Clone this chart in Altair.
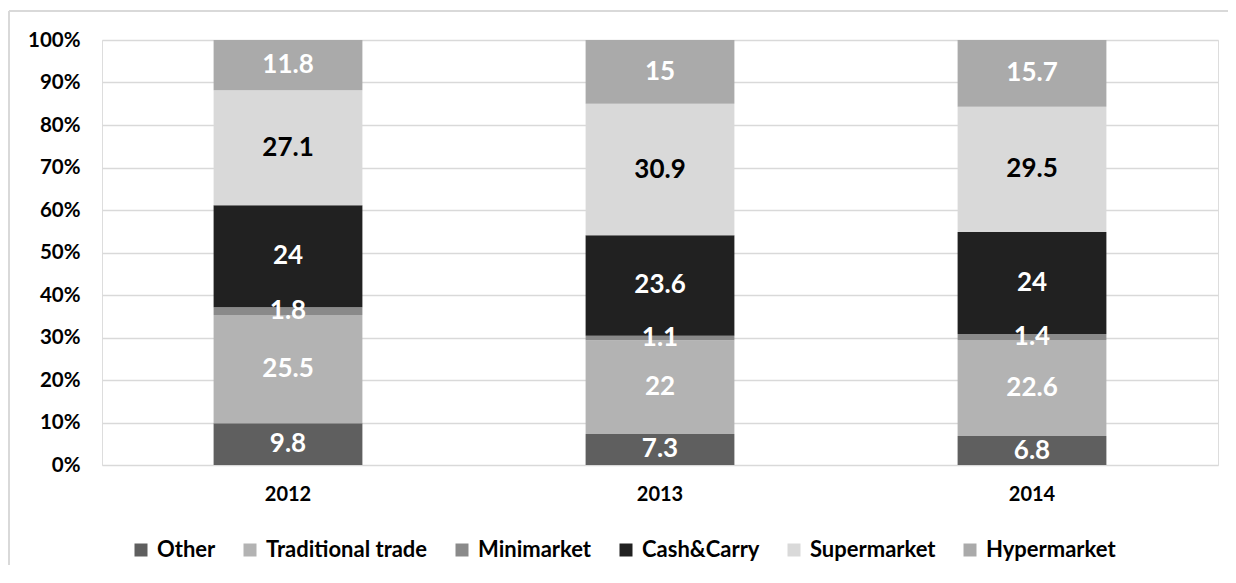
import altair as alt
import pandas as pd

years = ["2012", "2013", "2014"]
categories = ["Other", "Traditional trade", "Minimarket", "Cash&Carry", "Supermarket", "Hypermarket"]
colors = ["#5f5f5f", "#b3b3b3", "#8a8a8a", "#212121", "#d9d9d9", "#aaaaaa"]
other = [9.8, 7.3, 6.8]
traditional = [25.5, 22, 22.6]
minimarket = [1.8, 1.1, 1.4]
cashcarry = [24, 23.6, 24]
supermarket = [27.1, 30.9, 29.5]
hypermarket = [11.8, 15, 15.7]

series = [other, traditional, minimarket, cashcarry, supermarket, hypermarket]
rows = []
for ci, (cat, vals) in enumerate(zip(categories, series)):
    for yi, yr in enumerate(years):
        rows.append({"year": yr, "cat": cat, "order": ci, "value": vals[yi], "label": f"{vals[yi]:g}"})
df = pd.DataFrame(rows)

FONT = "Lato"
W, H = 1116, 425

base = alt.Chart(df).transform_stack(
    stack="value", groupby=["year"], as_=["y0", "y1"], offset="normalize",
    sort=[alt.SortField("order", order="ascending")]
).transform_calculate(mid="(datum.y0 + datum.y1) / 2")

xenc = alt.X("year:N", title=None,
             scale=alt.Scale(paddingInner=0.6, paddingOuter=0.3),
             axis=alt.Axis(labelAngle=0, labelFont=FONT, labelFontSize=20, labelFontWeight="bold",
                           labelColor="#000000", labelPadding=19, ticks=False, domain=False))

bars = base.mark_bar().encode(
    x=xenc,
    y=alt.Y("y0:Q", title=None, scale=alt.Scale(domain=[0, 1]),
            axis=alt.Axis(values=[i / 10 for i in range(11)], format=".0%", labelFont=FONT,
                          labelFontSize=20.5, labelFontWeight="bold", labelColor="#000000",
                          labelPadding=22, ticks=False, domain=False, grid=True,
                          gridColor="#d9d9d9", gridWidth=1.5)),
    y2="y1:Q",
    color=alt.Color("cat:N", scale=alt.Scale(domain=categories, range=colors),
                    sort=categories,
                    legend=alt.Legend(title=None, orient="none", direction="horizontal",
                                      legendX=28, legendY=499, symbolType="square",
                                      symbolSize=169, symbolStrokeWidth=0, labelFont=FONT,
                                      labelFontSize=22, labelFontWeight="bold", labelColor="#000000",
                                      labelOffset=5, columnPadding=23, labelLimit=400)),
)

text = base.mark_text(font=FONT, fontSize=26, fontWeight="bold", baseline="middle").encode(
    x="year:N",
    y="mid:Q",
    text="label:N",
    color=alt.condition(alt.datum.cat == "Supermarket", alt.value("#000000"), alt.value("#ffffff")),
)

frame_df = pd.DataFrame({"k": [0]})
left_border = alt.Chart(frame_df).mark_rule(color="#d9d9d9", strokeWidth=2).encode(
    x=alt.value(-93), y=alt.value(-29), y2=alt.value(H + 140))
top_border = alt.Chart(frame_df).mark_rule(color="#d9d9d9", strokeWidth=2).encode(
    x=alt.value(-93), x2=alt.value(W + 40), y=alt.value(-29))

chart = alt.layer(bars, text, left_border, top_border).properties(
    width=W, height=H,
    autosize=alt.AutoSizeParams(type="none"),
    padding={"left": 94, "top": 32, "right": 10, "bottom": 100},
).configure_view(stroke=None).configure(background="#ffffff")

chart.save("out.html", embed_options={"renderer": "svg", "actions": False})
